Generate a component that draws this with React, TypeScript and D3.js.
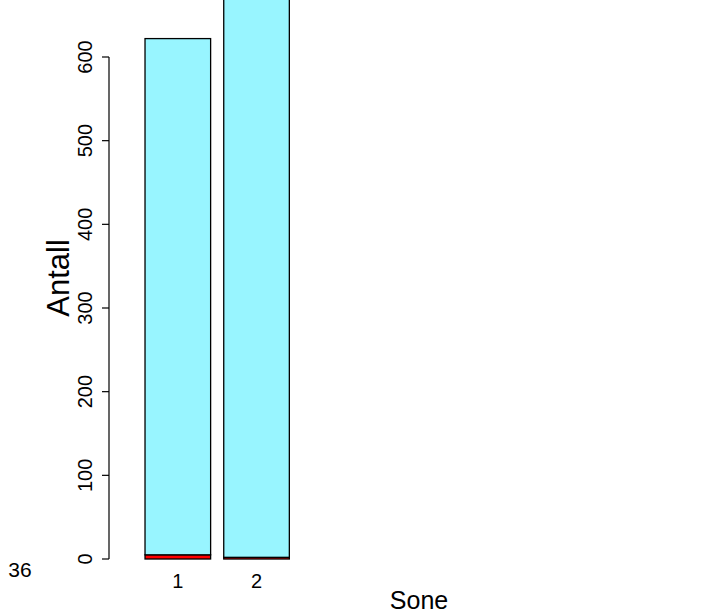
import React from "react";
import * as d3 from "d3";

const categories = ["1", "2"];
const redValues = [5, 2];
const cyanValues = [617, 740];
const yTicks = [0, 100, 200, 300, 400, 500, 600];
const cornerLabel = "36";
const xTitle = "Sone";
const yTitle = "Antall";

const W = 722;
const H = 615;

export default function App() {
  const y = d3.scaleLinear().domain([0, 600]).range([559, 57]);
  const x = d3.scaleLinear().domain([0, 9]).range([131.9, 722.3]);
  const barW = x(1) - x(0);
  const font = "Liberation Sans, Arial, sans-serif";

  const stacks = categories.map((c, i) => {
    const left = x(0.2 + i * 1.2);
    const r0 = 0;
    const r1 = redValues[i];
    const c1 = r1 + cyanValues[i];
    return { c, left, r0, r1, c1 };
  });

  return (
    <svg
      width={W}
      height={H}
      style={{ position: "absolute", top: 0, left: 0, background: "#fff" }}
      fontFamily={font}
    >
      {stacks.map((s) => (
        <g key={s.c}>
          <rect
            x={s.left}
            y={y(s.r1)}
            width={barW}
            height={y(s.r0) - y(s.r1)}
            fill="#FF0000"
            stroke="#000"
            strokeWidth={1.3}
          />
          <rect
            x={s.left}
            y={y(s.c1)}
            width={barW}
            height={y(s.r1) - y(s.c1)}
            fill="#98F5FF"
            stroke="#000"
            strokeWidth={1.3}
          />
          <text
            x={s.left + barW / 2}
            y={588}
            textAnchor="middle"
            fontSize={20}
            fill="#000"
          >
            {s.c}
          </text>
        </g>
      ))}
      <line x1={109} x2={109} y1={y(0)} y2={y(600)} stroke="#000" strokeWidth={1.2} />
      {yTicks.map((t) => (
        <g key={t}>
          <line x1={102} x2={109} y1={y(t)} y2={y(t)} stroke="#000" strokeWidth={1.2} />
          <text
            transform={`translate(92,${y(t)}) rotate(-90)`}
            textAnchor="middle"
            fontSize={20}
            fill="#000"
          >
            {t}
          </text>
        </g>
      ))}
      <text
        transform={`translate(69,${278}) rotate(-90)`}
        textAnchor="middle"
        fontSize={31}
        fill="#000"
      >
        {yTitle}
      </text>
      <text x={419} y={609} textAnchor="middle" fontSize={25} fill="#000">
        {xTitle}
      </text>
      <text x={20} y={577} textAnchor="middle" fontSize={21} fill="#000">
        {cornerLabel}
      </text>
    </svg>
  );
}
